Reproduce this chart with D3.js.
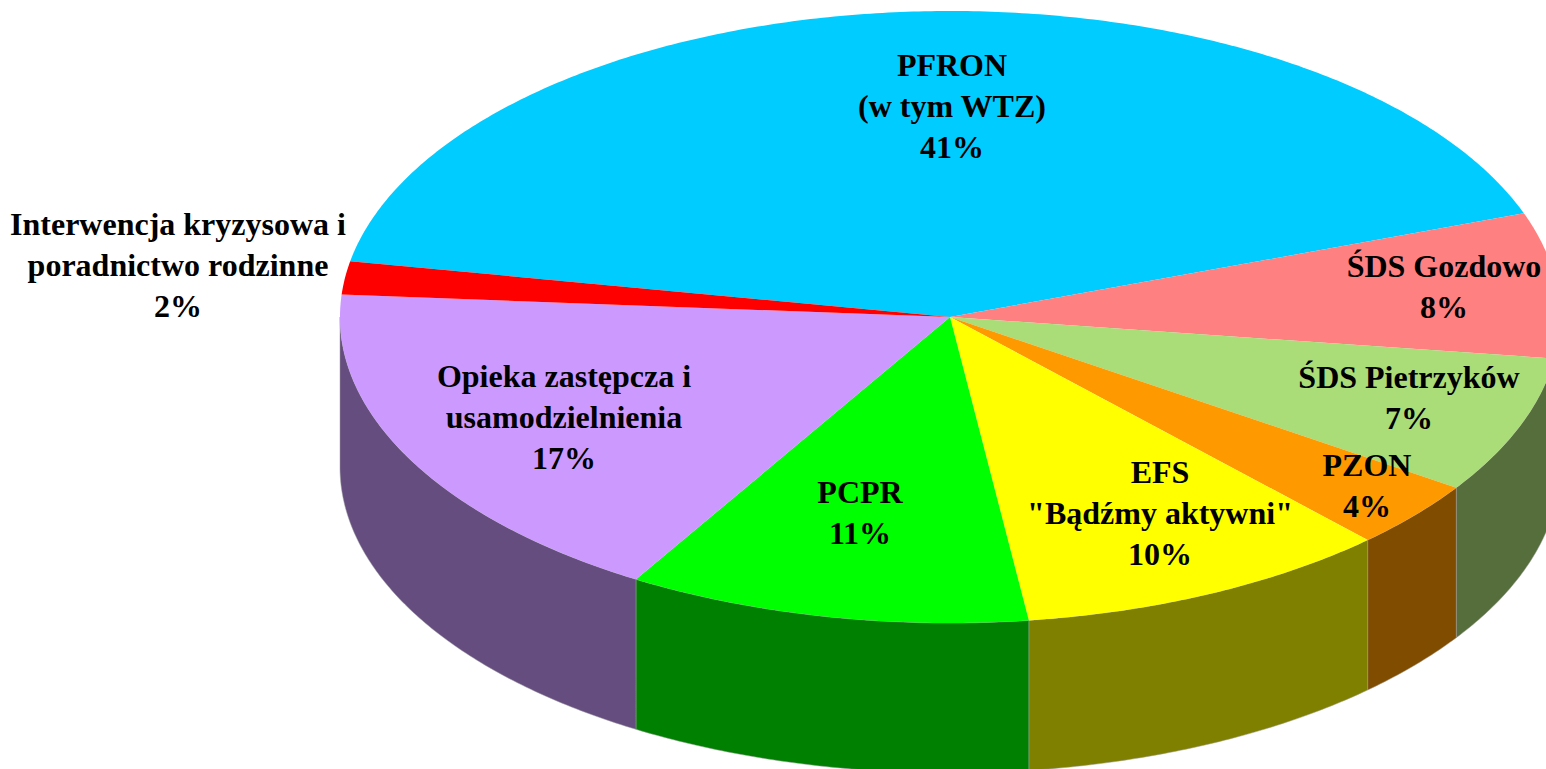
<!DOCTYPE html>
<html lang="en">
<head>
  <meta charset="UTF-8">
  <title>Struktura wydatków</title>
  <script src="https://d3js.org/d3.v7.min.js"></script>
  <style>
    body, html { margin: 0; background: #fff; overflow: hidden; }
    svg { display: block; }
    .label { font-family: 'Liberation Serif', 'Times New Roman', serif; font-weight: bold; font-size: 32px; fill: #000; text-anchor: middle; }
  </style>
</head>
<body>
  <svg width="1546" height="769"></svg>
  <script>
    // clockwise from the PFRON slice
    const names = [
      ["PFRON", "(w tym WTZ)"],
      ["ŚDS Gozdowo"],
      ["ŚDS Pietrzyków"],
      ["PZON"],
      ["EFS", "\"Bądźmy aktywni\""],
      ["PCPR"],
      ["Opieka zastępcza i", "usamodzielnienia"],
      ["Interwencja kryzysowa i", "poradnictwo rodzinne"]
    ];
    // printed percentages
    const percents = [41, 8, 7, 4, 10, 11, 17, 2];
    // shares measured off the slice boundaries (the 3D view stretches them a bit)
    const shares = [41.58, 7.67, 7.25, 3.58, 9.94, 10.67, 17.56, 1.75];
    const colors = ["#00ccff", "#ff8080", "#aadc78", "#ff9900", "#ffff00", "#00ff00", "#cc99ff", "#ff0000"];

    const svg = d3.select("svg");

    const depth = 150;
    const x = d3.scaleLinear().domain([-1, 1]).range([340, 1560]);
    const y = d3.scaleLinear().domain([-1, 1]).range([11, 623]);

    // angles are clockwise from 12 o'clock, as in d3.pie
    const startAngle = -79.5 * Math.PI / 180;
    const pie = d3.pie().value(d => d.share).sort(null)
      .startAngle(startAngle).endAngle(startAngle + 2 * Math.PI);
    const slices = pie(shares.map((share, i) => ({share, i})));

    const px = a => x(Math.sin(a));
    const py = a => y(-Math.cos(a));
    const samples = (a0, a1) => {
      const n = Math.max(2, Math.ceil((a1 - a0) / 0.01));
      return d3.range(n + 1).map(k => a0 + (a1 - a0) * k / n);
    };

    const sideColor = c => {
      const r = d3.rgb(c);
      return d3.rgb(r.r / 2, r.g / 2, r.b / 2).formatHex();
    };

    // Side wall, only the part facing the viewer (90deg to 270deg)
    const wall = d3.area().x(px).y0(py).y1(a => py(a) + depth);
    svg.append("g").selectAll("path")
      .data(slices.filter(d => d.endAngle > Math.PI / 2 && d.startAngle < 3 * Math.PI / 2))
      .enter().append("path")
        .attr("d", d => wall(samples(Math.max(d.startAngle, Math.PI / 2), Math.min(d.endAngle, 3 * Math.PI / 2))))
        .attr("fill", d => sideColor(colors[d.data.i]))
        .attr("stroke", "#9a9a9a")
        .attr("stroke-width", 0.5);

    // Top face
    const outline = d3.line().x(d => d[0]).y(d => d[1]);
    svg.append("g").selectAll("path")
      .data(slices)
      .enter().append("path")
        .attr("d", d => outline([[x(0), y(0)], ...samples(d.startAngle, d.endAngle).map(a => [px(a), py(a)])]) + "Z")
        .attr("fill", d => colors[d.data.i]);

    // Labels
    const labelAt = [[952, 76], [1444, 277], [1409, 388], [1367, 476], [1160, 483], [860, 503], [564, 387], [178, 235]];
    const lineGap = 41;
    const label = svg.append("g").selectAll("text")
      .data(slices)
      .enter().append("text")
        .attr("class", "label")
        .attr("x", d => labelAt[d.data.i][0])
        .attr("y", d => labelAt[d.data.i][1]);
    label.selectAll("tspan")
      .data(d => [...names[d.data.i], percents[d.data.i] + "%"])
      .enter().append("tspan")
        .attr("x", function() { return this.parentNode.getAttribute("x"); })
        .attr("dy", (d, i) => i ? lineGap : 0)
        .text(d => d);
  </script>
</body>
</html>
